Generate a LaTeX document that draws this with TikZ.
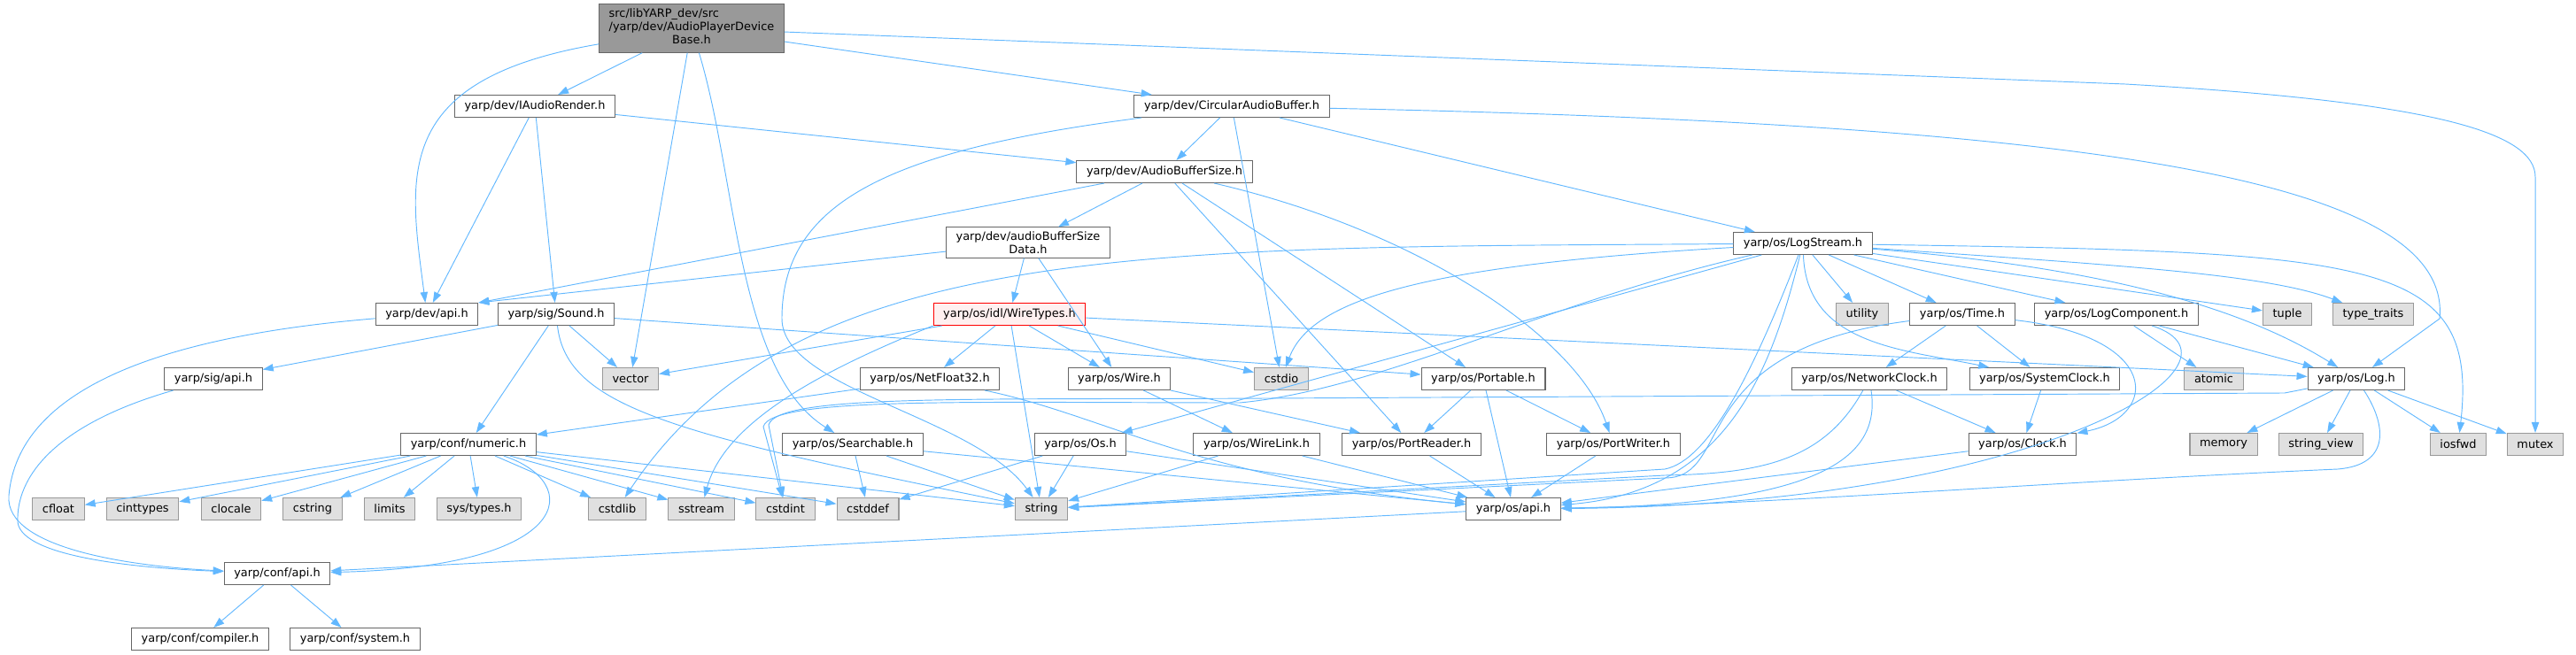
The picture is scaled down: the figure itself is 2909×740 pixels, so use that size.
\documentclass[tikz,border=0pt]{standalone}
\usepackage{fontspec}
\setmainfont{DejaVu Sans}
\usetikzlibrary{arrows.meta}
\definecolor{enlace}{HTML}{63B8FF}
\definecolor{gris40}{HTML}{666666}
\definecolor{gris60}{HTML}{999999}
\definecolor{grisfondo}{HTML}{E0E0E0}
\definecolor{rosado}{HTML}{FFF0F0}

\begin{document}
\begin{tikzpicture}[x=0.03cm,y=-0.03cm,>={Triangle[length=3.6mm,width=2.5mm]},
  font=\fontsize{11}{12.8}\selectfont,
  arch/.style={draw=gris40,fill=white,line width=0.9pt,minimum height=0.75cm,inner xsep=9.5pt,inner ysep=4pt},
  sis/.style={arch,draw=gris60,fill=grisfondo},
  dep/.style={->,enlace,line width=0.8pt}]
  \useasboundingbox (0,0) rectangle (2909,740);
  % cabecera raiz
  \node[arch,fill=gris60] (root) at (781,32) {\begin{tabular}{@{}l@{}}src/libYARP\_dev/src\\/yarp/dev/AudioPlayerDevice\\\multicolumn{1}{@{}c@{}}{Base.h}\end{tabular}};
  % yarp/dev
  \node[arch] (iaudio) at (604,120) {yarp/dev/IAudioRender.h};
  \node[arch] (circ) at (1391,120) {yarp/dev/CircularAudioBuffer.h};
  \node[arch] (abs) at (1315,194) {yarp/dev/AudioBufferSize.h};
  \node[arch,align=center] (absd) at (1161,274) {yarp/dev/audioBufferSize\\Data.h};
  \node[arch] (logstream) at (2036,275) {yarp/os/LogStream.h};
  % fila 3
  \node[arch] (devapi) at (482,355) {yarp/dev/api.h};
  \node[arch] (sound) at (628,355) {yarp/sig/Sound.h};
  \node[arch,draw=red,fill=rosado] (wiretypes) at (1140,355) {yarp/os/idl/WireTypes.h};
  \node[sis] (utility) at (2103,355) {utility};
  \node[arch] (time) at (2216,355) {yarp/os/Time.h};
  \node[arch] (logcomp) at (2390,355) {yarp/os/LogComponent.h};
  \node[sis] (tuple) at (2583,355) {tuple};
  \node[sis] (typetraits) at (2680,355) {type\_traits};
  % fila 4
  \node[arch] (sigapi) at (241,428) {yarp/sig/api.h};
  \node[sis] (vector) at (712,428) {vector};
  \node[arch] (netfloat) at (1050,428) {yarp/os/NetFloat32.h};
  \node[arch] (wire) at (1264,428) {yarp/os/Wire.h};
  \node[sis] (cstdio) at (1447,428) {cstdio};
  \node[arch] (portable) at (1675,428) {yarp/os/Portable.h};
  \node[arch] (netclock) at (2111,428) {yarp/os/NetworkClock.h};
  \node[arch] (sysclock) at (2309,428) {yarp/os/SystemClock.h};
  \node[sis] (atomic) at (2500,428) {atomic};
  \node[arch] (log) at (2661,428) {yarp/os/Log.h};
  % fila 5
  \node[arch] (numeric) at (529,502) {yarp/conf/numeric.h};
  \node[arch] (searchable) at (963,502) {yarp/os/Searchable.h};
  \node[arch] (os) at (1220,502) {yarp/os/Os.h};
  \node[arch] (wirelink) at (1419,502) {yarp/os/WireLink.h};
  \node[arch] (portreader) at (1594,502) {yarp/os/PortReader.h};
  \node[arch] (portwriter) at (1822,502) {yarp/os/PortWriter.h};
  \node[arch] (clock) at (2284,502) {yarp/os/Clock.h};
  \node[sis] (memory) at (2511,502) {memory};
  \node[sis] (stringview) at (2621,502) {string\_view};
  \node[sis] (iosfwd) at (2776,502) {iosfwd};
  \node[sis] (mutex) at (2863,502) {mutex};
  % fila 6: cabeceras del sistema
  \node[sis] (cfloat) at (66,575) {cfloat};
  \node[sis] (cinttypes) at (161,575) {cinttypes};
  \node[sis] (clocale) at (261,575) {clocale};
  \node[sis] (cstring) at (353,575) {cstring};
  \node[sis] (limits) at (440,575) {limits};
  \node[sis] (systypes) at (541,575) {sys/types.h};
  \node[sis] (cstdlib) at (697,575) {cstdlib};
  \node[sis] (sstream) at (792,575) {sstream};
  \node[sis] (cstdint) at (887,575) {cstdint};
  \node[sis] (cstddef) at (980,575) {cstddef};
  \node[sis] (string) at (1176,575) {string};
  \node[arch] (osapi) at (1709,575) {yarp/os/api.h};
  % yarp/conf
  \node[arch] (confapi) at (313,648) {yarp/conf/api.h};
  \node[arch] (compiler) at (226,722) {yarp/conf/compiler.h};
  \node[arch] (system) at (401,722) {yarp/conf/system.h};

  % enlaces desde la raiz
  \draw[dep] (root) edge (iaudio) edge (circ) edge (vector);
  \draw[dep] (root) .. controls (440,90) and (462,200) .. (devapi);
  \draw[dep] (root) .. controls (832,200) and (832,420) .. (searchable);
  \draw[dep] (root) -- (2400,95) .. controls (2750,115) and (2863,150) .. (2863,200) -- (mutex);
  % yarp/dev
  \draw[dep] (iaudio) edge (devapi) edge (sound) edge (abs);
  \draw[dep] (circ) edge (abs) edge (logstream) edge (cstdio);
  \draw[dep] (circ) .. controls (2350,140) and (2770,200) .. (2755,360) -- (log);
  \draw[dep] (circ) .. controls (1000,170) and (883,230) .. (883,360) .. controls (883,440) and (1100,470) .. (string);
  \draw[dep] (abs) edge (devapi.north east) edge (absd) edge (portable) edge (portreader);
  \draw[dep] (abs) .. controls (1600,260) and (1780,380) .. (portwriter);
  \draw[dep] (absd) edge (devapi.north east) edge (wiretypes) edge (wire);
  \draw[dep] (devapi) .. controls (180,380) and (20,440) .. (10,560) .. controls (5,620) and (150,640) .. (confapi);
  % yarp/sig
  \draw[dep] (sound) edge (sigapi) edge (vector) edge (numeric) edge (portable);
  \draw[dep] (sound) .. controls (640,460) and (760,490) .. (string);
  \draw[dep] (sigapi) .. controls (60,480) and (18,540) .. (20,590) .. controls (25,630) and (160,642) .. (confapi);
  % yarp/os
  \draw[dep] (wiretypes) edge (vector) edge (netfloat) edge (wire) edge (cstdio) edge (string) edge (log);
  \draw[dep] (wiretypes.south west) .. controls (950,410) and (820,470) .. (sstream);
  \draw[dep] (netfloat) edge (numeric);
  \draw[dep] (netfloat) .. controls (1250,470) and (1350,540) .. (osapi);
  \draw[dep] (wire) edge (wirelink) edge (portreader);
  \draw[dep] (portable) edge (portreader) edge (portwriter) edge (osapi);
  \draw[dep] (searchable) edge (cstddef) edge (string) edge (osapi);
  \draw[dep] (os) edge (cstddef) edge (string) edge (osapi);
  \draw[dep] (wirelink) edge (string) edge (osapi);
  \draw[dep] (portreader) edge (osapi);
  \draw[dep] (portwriter) edge (osapi);
  % yarp/conf
  \draw[dep] (numeric) edge (cfloat) edge (cinttypes) edge (clocale) edge (cstring) edge (limits) edge (systypes)
    edge (cstdlib) edge (sstream) edge (cstdint) edge (cstddef) edge (string);
  \draw[dep] (numeric) .. controls (660,545) and (650,640) .. (confapi);
  \draw[dep] (osapi) edge (confapi);
  \draw[dep] (confapi) edge (compiler) edge (system);
  % LogStream y compania
  \draw[dep] (logstream) edge (utility) edge (time) edge (logcomp) edge (tuple) edge (os);
  \draw[dep] (logstream) .. controls (2400,300) and (2560,310) .. (typetraits);
  \draw[dep] (logstream) .. controls (2350,300) and (2520,340) .. (log);
  \draw[dep] (logstream) .. controls (2040,390) and (2150,395) .. (sysclock);
  \draw[dep] (logstream) .. controls (2680,285) and (2800,290) .. (iosfwd);
  \draw[dep] (logstream) .. controls (1600,300) and (1480,340) .. (cstdio);
  \draw[dep] (logstream) .. controls (1300,280) and (900,270) .. (cstdlib);
  \draw[dep] (logstream) .. controls (1750,340) and (1560,440) .. (1400,455) .. controls (1100,455) and (872,448) .. (862,482) -- (cstdint);
  \draw[dep] (logstream) .. controls (1980,420) and (1930,520) .. (1880,530) -- (string);
  \draw[dep] (logstream) .. controls (2000,420) and (1950,555) .. (osapi);
  \draw[dep] (time) edge (netclock) edge (sysclock);
  \draw[dep] (time) .. controls (2440,380) and (2440,470) .. (clock);
  \draw[dep] (time) .. controls (1900,395) and (1960,540) .. (1880,540) -- (string);
  \draw[dep] (netclock) edge (clock);
  \draw[dep] (netclock) .. controls (2060,520) and (1990,535) .. (1880,537) -- (string);
  \draw[dep] (netclock) .. controls (2125,520) and (2050,570) .. (osapi);
  \draw[dep] (sysclock) edge (clock);
  \draw[dep] (clock) edge (osapi);
  \draw[dep] (logcomp) edge (atomic) edge (log);
  \draw[dep] (logcomp) .. controls (2560,410) and (2300,570) .. (osapi);
  \draw[dep] (log) edge (memory) edge (stringview) edge (iosfwd) edge (mutex);
  \draw[dep] (log) .. controls (2695,480) and (2700,525) .. (2640,530) .. controls (2300,545) and (2000,570) .. (osapi);
  \draw[dep] (log) -- (2580,444) -- (1430,450) .. controls (1100,452) and (878,445) .. (868,480) -- (cstdint);
\end{tikzpicture}
\end{document}
